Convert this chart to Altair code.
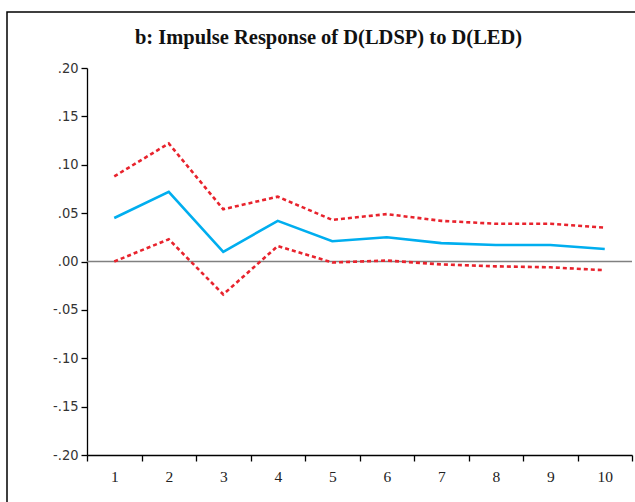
import altair as alt
import pandas as pd

# Impulse response of D(LDSP) to a shock in D(LED), with +/- 2 S.E. bands
periods = [1, 2, 3, 4, 5, 6, 7, 8, 9, 10]
response = [0.045, 0.072, 0.010, 0.042, 0.021, 0.025, 0.019, 0.017, 0.017, 0.013]
upper = [0.088, 0.122, 0.054, 0.067, 0.043, 0.049, 0.042, 0.039, 0.039, 0.035]
lower = [0.000, 0.023, -0.034, 0.016, -0.001, 0.001, -0.003, -0.005, -0.006, -0.009]
y_ticks = [-0.20, -0.15, -0.10, -0.05, 0.00, 0.05, 0.10, 0.15, 0.20]

resp_df = pd.DataFrame({"period": periods, "value": response})
band_df = pd.concat([
    pd.DataFrame({"period": periods, "value": upper, "band": "upper"}),
    pd.DataFrame({"period": periods, "value": lower, "band": "lower"}),
])

W, H = 545, 387

x_enc = alt.X(
    "period:O",
    scale=alt.Scale(type="band", paddingInner=0, paddingOuter=0),
    bandPosition=0.5,
    axis=alt.Axis(
        title=None, labelAngle=0, tickBand="extent", tickSize=6,
        labelFont="Liberation Serif", labelFontSize=15.5, labelColor="#222",
        labelPadding=8, domainColor="#000", tickColor="#000",
        domainWidth=1.3, tickWidth=1.3,
    ),
)
y_enc = alt.Y(
    "value:Q",
    scale=alt.Scale(domain=[-0.2, 0.2], nice=False, zero=False),
    axis=alt.Axis(
        title=None, values=y_ticks, grid=False, tickSize=6,
        labelExpr="replace(replace(format(datum.value, '.2f'), '\u2212', '-'), '0.', '.')",
        labelFont="DejaVu Sans Condensed", labelFontSize=14.5, labelColor="#333",
        labelPadding=3, domainColor="#000", tickColor="#000",
        domainWidth=1.3, tickWidth=1.3,
    ),
)

zero_rule = alt.Chart(alt.Data(values=[{"v": 0}])).mark_rule(
    color="#808080", strokeWidth=1.5
).encode(y=alt.Y("v:Q", scale=alt.Scale(domain=[-0.2, 0.2], nice=False)))

bands = alt.Chart(band_df).mark_line(
    color="#e8232d", strokeWidth=2.6, strokeDash=[4, 3]
).encode(x=x_enc, y=y_enc, detail="band:N")

line = alt.Chart(resp_df).mark_line(
    color="#00aeef", strokeWidth=2.6
).encode(x=x_enc, y=y_enc)

# outer frame around the figure
frame = alt.Chart(alt.Data(values=[{"f": 1}])).mark_rect(
    fill="white", fillOpacity=0, stroke="#000", strokeWidth=1.5
).encode(
    x=alt.value(-80), x2=alt.value(W + 40),
    y=alt.value(-56), y2=alt.value(H + 80),
)

chart = alt.layer(frame, zero_rule, bands, line).properties(
    width=W, height=H,
    background="white",
    title=alt.TitleParams(
        "b: Impulse Response of D(LDSP) to D(LED)",
        font="Liberation Serif", fontSize=20.5, fontWeight="bold",
        color="#111", anchor="middle", dx=-31, dy=67, offset=14,
        baseline="alphabetic",
    ),
    padding={"left": 87, "top": 68, "right": 3, "bottom": 47},
    autosize=alt.AutoSizeParams(type="none"),
).configure_view(stroke=None)

chart.save("out.html", embed_options={"renderer": "svg", "actions": False})
